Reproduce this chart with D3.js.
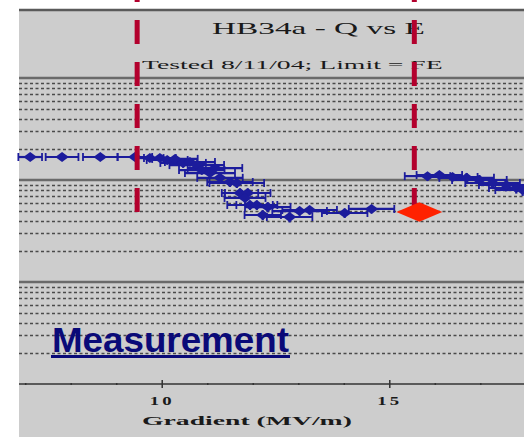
<!DOCTYPE html>
<html>
<head>
<meta charset="utf-8">
<script src="https://cdn.jsdelivr.net/npm/d3@7"></script>
<style>
  html, body { margin: 0; padding: 0; background: #ffffff; }
  svg { display: block; }
</style>
</head>
<body>
<svg id="chart" width="524" height="437"></svg>
<script>
// ---------- data ----------
const titleText = "HB34a - Q vs E";
const subtitleText = "Tested 8/11/04; Limit = FE";
const xLabelText = "Gradient (MV/m)";
const annotationText = "Measurement";

const gradient = [7.11, 7.81, 8.65, 9.41, 9.74, 9.96, 10.12, 10.29, 10.47, 10.62, 10.77, 10.88, 11.06, 11.17, 11.28, 11.50, 11.65, 11.72, 11.89, 11.83, 11.94, 12.09, 12.22, 12.33, 12.81, 13.03, 13.25, 14.02, 14.61, 15.84, 16.10, 16.39, 16.70, 16.98, 17.27, 17.57, 17.79, 17.93];
const qValue = [1.68e10, 1.68e10, 1.68e10, 1.68e10, 1.64e10, 1.64e10, 1.57e10, 1.61e10, 1.47e10, 1.50e10, 1.40e10, 1.25e10, 1.17e10, 1.31e10, 1.05e10, 9.55e9, 9.35e9, 7.46e9, 7.46e9, 6.67e9, 5.69e9, 5.69e9, 4.54e9, 5.43e9, 4.34e9, 4.96e9, 5.08e9, 4.75e9, 5.20e9, 1.09e10, 1.12e10, 1.07e10, 1.05e10, 1.00e10, 9.35e9, 8.93e9, 8.35e9, 7.98e9];
const gradErr = [0.26, 0.36, 0.38, 0.38, 0.30, 0.35, 0.45, 0.50, 0.50, 0.55, 0.60, 0.50, 0.55, 0.60, 0.50, 0.50, 0.60, 0.40, 0.50, 0.45, 0.50, 0.45, 0.40, 0.50, 0.50, 0.60, 0.60, 0.50, 0.50, 0.50, 0.50, 0.55, 0.60, 0.60, 0.60, 0.60, 0.60, 0.60];
const qErr = [0, 0, 0, 0, 0, 0, 1.5e9, 1.2e9, 1.5e9, 1.2e9, 1.5e9, 1.2e9, 1.2e9, 1.2e9, 1.0e9, 1.0e9, 1.0e9, 0.8e9, 0.8e9, 0.7e9, 0.6e9, 0.6e9, 0.5e9, 0.6e9, 0.5e9, 0.5e9, 0.5e9, 0.5e9, 0.5e9, 0, 1.0e9, 1.0e9, 1.2e9, 1.2e9, 1.0e9, 1.2e9, 1.0e9, 1.0e9];

const limitGradient = [15.66];
const limitQ = [4.86e9];

const markerGradient = [9.46, 15.55];   // red dashed guide lines
const markerQEnd = 4.86e9;

const xTicksMinor = [7, 8, 9, 10, 11, 12, 13, 14, 15, 16, 17];
const xTickLabels = [10, 15];
const xDomain = [6.864, 17.96];
const qDomain = [1e8, 1e11];
const qDecades = [1e8, 1e9, 1e10, 1e11];
const qMinorMultipliers = [2, 3, 4, 5, 6, 7, 8, 9];

// ---------- layout ----------
const svg = d3.select("#chart");
const panelLeft = 19, panelTop = 9, W = 524, H = 437;
const plotTop = 78, plotBottom = 384;
const serif = "Liberation Serif, Times New Roman, serif";

const x = d3.scaleLinear().domain(xDomain).range([panelLeft, W]);
const y = d3.scaleLog().domain(qDomain).range([plotBottom, plotTop]);

// text stretched horizontally to a target width (the reference type is wide)
function wideText(text, left, baseline, width, size, weight) {
  const t = svg.append("text").text(text)
    .attr("font-family", serif).attr("font-size", size)
    .attr("font-weight", weight || "normal").attr("fill", "#1a1a1a");
  const len = t.node().getComputedTextLength();
  t.attr("transform", `translate(${left},${baseline}) scale(${width / len},1)`);
  return t;
}

// background panel
svg.append("rect").attr("x", panelLeft).attr("y", panelTop)
  .attr("width", W - panelLeft).attr("height", H - panelTop)
  .attr("fill", "#cdcdcd");
svg.append("line").attr("x1", panelLeft).attr("x2", W)
  .attr("y1", panelTop + 1).attr("y2", panelTop + 1)
  .attr("stroke", "#5a5a5a").attr("stroke-width", 2.5);

// minor grid (dotted)
const minorVals = [];
qDecades.slice(0, -1).forEach(d => qMinorMultipliers.forEach(m => minorVals.push(d * m)));
svg.append("g").selectAll("line").data(minorVals).join("line")
  .attr("x1", panelLeft).attr("x2", W)
  .attr("y1", d => Math.round(y(d)) + 0.5).attr("y2", d => Math.round(y(d)) + 0.5)
  .attr("stroke", "#4a4a4a").attr("stroke-width", 1.5)
  .attr("stroke-dasharray", "3,2.5");

// major grid
svg.append("g").selectAll("line").data(qDecades.slice(1)).join("line")
  .attr("x1", panelLeft).attr("x2", W)
  .attr("y1", d => y(d)).attr("y2", d => y(d))
  .attr("stroke", "#6a6a6a").attr("stroke-width", 2.4);

// titles
wideText(titleText, 212, 34, 213, 16, "normal");
wideText(subtitleText, 142, 69, 301, 12, "normal");

// x axis
const xAxis = d3.axisBottom(x).tickValues(xTicksMinor).tickSize(2)
  .tickFormat(d => xTickLabels.includes(d) ? d : "");
const gx = svg.append("g").attr("transform", `translate(0,${plotBottom})`).call(xAxis);
gx.select(".domain").remove();
svg.append("line").attr("x1", panelLeft).attr("x2", W)
  .attr("y1", plotBottom).attr("y2", plotBottom)
  .attr("stroke", "#333").attr("stroke-width", 1.6);
gx.selectAll(".tick line")
  .attr("y1", d => xTickLabels.includes(d) ? -4 : -1)
  .attr("y2", d => xTickLabels.includes(d) ? 4 : 1)
  .attr("stroke", "#333").attr("stroke-width", 1.5);
gx.selectAll(".tick text")
  .attr("y", 21).attr("dy", 0)
  .attr("font-family", serif).attr("font-weight", "bold")
  .attr("font-size", 12).attr("letter-spacing", 2).attr("fill", "#1a1a1a")
  .each(function () {
    const len = this.getComputedTextLength();
    if (len > 0) d3.select(this).attr("transform", `scale(${25 / len},1)`);
  });

wideText(xLabelText, 142, 425, 210, 13, "bold");

// data
const data = gradient.map((g, i) => ({ g, q: qValue[i], ge: gradErr[i], qe: qErr[i] }));
const blue = "#1c1c9c";
const gData = svg.append("g");

gData.selectAll("line.h").data(data).join("line").attr("class", "h")
  .attr("x1", d => x(d.g - d.ge)).attr("x2", d => x(d.g + d.ge))
  .attr("y1", d => y(d.q)).attr("y2", d => y(d.q))
  .attr("stroke", blue).attr("stroke-width", 2.2);
gData.selectAll("line.capL").data(data).join("line").attr("class", "capL")
  .attr("x1", d => x(d.g - d.ge)).attr("x2", d => x(d.g - d.ge))
  .attr("y1", d => y(d.q) - 4).attr("y2", d => y(d.q) + 4)
  .attr("stroke", blue).attr("stroke-width", 1.8);
gData.selectAll("line.capR").data(data).join("line").attr("class", "capR")
  .attr("x1", d => x(d.g + d.ge)).attr("x2", d => x(d.g + d.ge))
  .attr("y1", d => y(d.q) - 4).attr("y2", d => y(d.q) + 4)
  .attr("stroke", blue).attr("stroke-width", 1.8);
gData.selectAll("line.v").data(data.filter(d => d.qe > 0)).join("line").attr("class", "v")
  .attr("x1", d => x(d.g)).attr("x2", d => x(d.g))
  .attr("y1", d => y(d.q + d.qe)).attr("y2", d => y(d.q - d.qe))
  .attr("stroke", blue).attr("stroke-width", 2.2);

const diamond = d3.symbol(d3.symbolDiamond, 40);
gData.selectAll("path.pt").data(data).join("path").attr("class", "pt")
  .attr("d", diamond)
  .attr("transform", d => `translate(${x(d.g)},${y(d.q)}) scale(2.0,0.85)`)
  .attr("fill", blue);

// red dashed guide lines
svg.append("g").selectAll("line").data(markerGradient).join("line")
  .attr("x1", d => x(d)).attr("x2", d => x(d))
  .attr("y1", -22).attr("y2", y(markerQEnd))
  .attr("stroke", "#b3002d").attr("stroke-width", 5)
  .attr("stroke-dasharray", "24,18");

// limit point
svg.append("g").selectAll("path").data(limitGradient).join("path")
  .attr("d", d3.symbol(d3.symbolDiamond, 120))
  .attr("transform", (d, i) => `translate(${x(d)},${y(limitQ[i])}) scale(3.9,0.95)`)
  .attr("fill", "#ff2200");

// annotation
const ann = svg.append("text").text(annotationText)
  .attr("font-family", "Liberation Sans, Arial, sans-serif")
  .attr("font-weight", "bold").attr("font-size", 35)
  .attr("fill", "#0a0a78");
const annLen = ann.node().getComputedTextLength();
ann.attr("transform", `translate(52,352) scale(${237 / annLen},1)`);
svg.append("rect").attr("x", 51).attr("y", 355)
  .attr("width", 239).attr("height", 3)
  .attr("fill", "#0a0a78");
</script>
</body>
</html>
